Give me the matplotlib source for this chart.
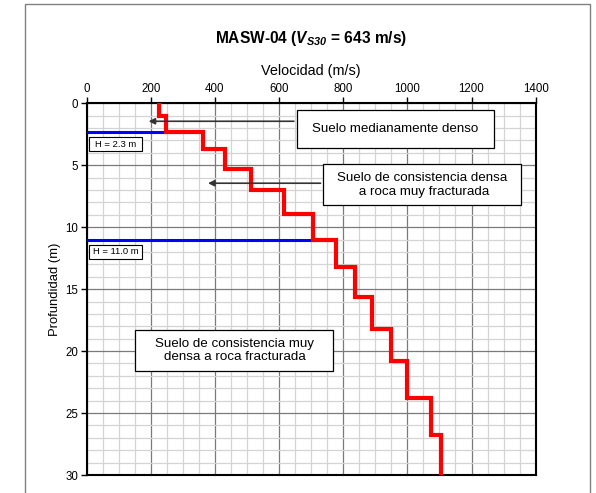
import matplotlib
matplotlib.use("Agg")
import matplotlib.pyplot as plt
from matplotlib.patches import Rectangle

plt.rcParams['font.family'] = ['Liberation Sans', 'DejaVu Sans']
plt.rcParams['mathtext.fontset'] = 'custom'
plt.rcParams['mathtext.rm'] = 'Liberation Sans'
plt.rcParams['mathtext.bf'] = 'Liberation Sans:bold'
plt.rcParams['mathtext.bfit'] = 'Liberation Sans:italic:bold'

# Velocity profile (m/s) and layer boundaries (m)
velocities = [226, 248, 362, 431, 513, 617, 706, 779, 836, 890, 948, 1000, 1073, 1104]
depths = [0, 1.0, 2.3, 3.7, 5.3, 7.0, 8.9, 11.0, 13.2, 15.6, 18.2, 20.8, 23.8, 26.8, 30]

# Horizons marked in blue
horizon_depths = [2.3, 11.0]
horizon_vel = [248, 706]
horizon_labels = ['H = 2.3 m', 'H = 11.0 m']

x_ticks = [0, 200, 400, 600, 800, 1000, 1200, 1400]
y_ticks = [0, 5, 10, 15, 20, 25, 30]

W, H = 596, 493
fig = plt.figure(figsize=(W / 100, H / 100), dpi=100)
ax = fig.add_axes([86.5 / W, 1 - 475 / H, (535.7 - 86.5) / W, (475 - 103.3) / H])

# outer frame
fig.patches.append(Rectangle((25 / W, -0.1), (590 - 25) / W, 1.1 - 4 / H,
                             transform=fig.transFigure, fill=False,
                             edgecolor='#808080', lw=1.0))

# step profile
xs, ys = [], []
for i, v in enumerate(velocities):
    xs += [v, v]
    ys += [depths[i], depths[i + 1]]
ax.plot(xs, ys, color='red', lw=3, solid_joinstyle='miter', zorder=5)


def box(x0, x1, y0, y1, lw=0.9):
    ax.add_patch(Rectangle((x0, y0), x1 - x0, y1 - y0, fc='white', ec='black',
                           lw=lw, zorder=7))


for d, v, lab in zip(horizon_depths, horizon_vel, horizon_labels):
    ax.plot([0, v], [d, d], color='blue', lw=2.2, zorder=4)
    box(9, 173, d + 0.45, d + 1.55, lw=0.8)
    ax.text(91, d + 1.0, lab, fontsize=6.8, ha='center', va='center', zorder=8)

# annotation boxes with arrows
arrow_kw = dict(arrowstyle='-|>', color='#333333', lw=1.2, mutation_scale=9)
ax.annotate('', xy=(185, 1.45), xytext=(655, 1.45), arrowprops=arrow_kw, zorder=6)
box(655, 1271, 0.54, 3.63)
ax.text(963, 2.1, 'Suelo medianamente denso', fontsize=9.6, ha='center', va='center', zorder=8)

ax.annotate('', xy=(370, 6.45), xytext=(738, 6.45), arrowprops=arrow_kw, zorder=6)
box(738, 1355, 4.92, 8.23)
ax.text(1046, 6.6, 'Suelo de consistencia densa\n a roca muy fracturada', fontsize=9.6,
        ha='center', va='center', linespacing=1.2, zorder=8)

box(152, 769, 18.3, 21.6)
ax.text(461, 19.95, 'Suelo de consistencia muy\ndensa a roca fracturada', fontsize=9.6,
        ha='center', va='center', linespacing=1.2, zorder=8)

ax.set_xlim(0, 1400)
ax.set_ylim(30, 0)
ax.set_xticks(x_ticks)
ax.set_yticks(y_ticks)
ax.set_xticks(range(0, 1401, 50), minor=True)
ax.set_yticks(range(0, 31, 1), minor=True)
ax.grid(which='minor', color='#d4d4d4', lw=0.9)
ax.grid(which='major', color='#7a7a7a', lw=0.9)
ax.set_axisbelow(True)
ax.xaxis.tick_top()
ax.xaxis.set_label_position('top')
ax.tick_params(which='major', labelsize=8.3, length=4, width=1, direction='out', colors='black',
               pad=2)
ax.tick_params(which='minor', length=0)
for sp in ax.spines.values():
    sp.set_linewidth(1.5)

ax.set_xlabel('Velocidad (m/s)', fontsize=10.4, labelpad=6)
ax.set_ylabel('Profundidad (m)', fontsize=9.4)
ax.yaxis.set_label_coords((61 - 86.5) / (535.7 - 86.5), 0.5)

fig.text((86.5 + 535.7) / 2 / W, 1 - 38 / H,
         r'MASW-04 ($\mathbfit{V}_{\mathbfit{S30}}$ = 643 m/s)',
         ha='center', va='center', fontsize=11.2, fontweight='bold')

fig.savefig('out.png', dpi=100)
